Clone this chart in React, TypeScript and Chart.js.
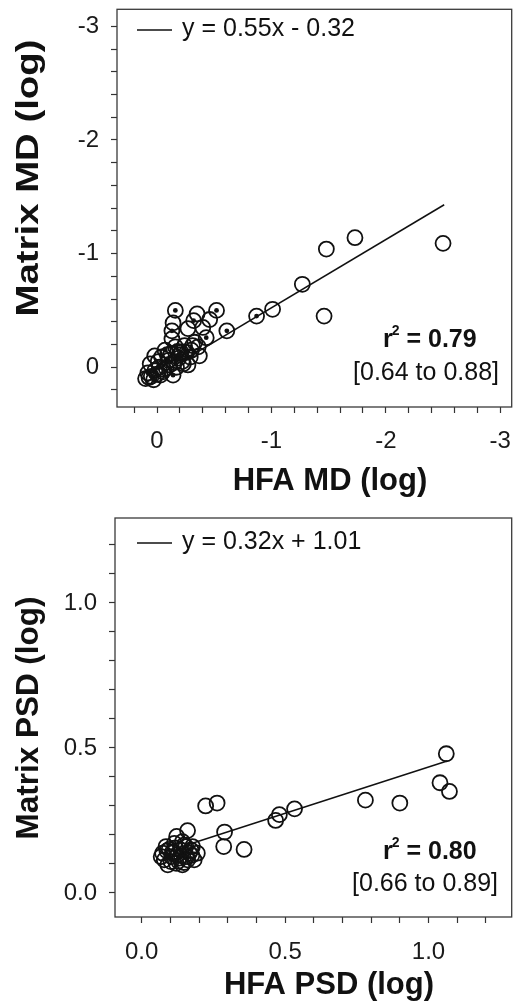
import React, { useEffect, useRef } from 'react';
import { Chart, registerables } from 'chart.js';

Chart.register(...registerables);

const FONT = '"Liberation Sans", Arial, Helvetica, sans-serif';
const INK = '#111111';

// ---------- Panel A : MD (log) ----------
const mdOpenX = [
  -2.50, -1.73, -1.48, -1.27, -1.46, -1.01, -0.87, -0.61,
  -0.16, -0.14, -0.13, -0.32, -0.35, -0.27, -0.52, -0.46, -0.40, -0.43,
  -0.33, -0.24, -0.16, -0.07, -0.37, -0.29, -0.19, -0.10, -0.01, -0.27,
  -0.17, -0.08, 0.02, 0.08, -0.03, -0.14, 0.10, 0.03, -0.05, -0.21,
  -0.13, 0.02, 0.06, -0.12, -0.22, -0.04, -0.30,
  -0.26, -0.20, -0.11, -0.02, 0.05, -0.31, -0.18, -0.09, -0.23, -0.06, 0.00, -0.15, -0.36, 0.07,
];
const mdOpenY = [
  -1.09, -1.14, -1.04, -0.73, -0.45, -0.51, -0.45, -0.32,
  -0.50, -0.39, -0.32, -0.41, -0.47, -0.34, -0.50, -0.42, -0.35, -0.26,
  -0.22, -0.19, -0.18, -0.15, -0.10, -0.09, -0.08, -0.06, -0.05, -0.02,
  0.00, 0.01, 0.03, 0.05, 0.07, 0.07, 0.10, 0.11, 0.04, -0.13,
  -0.25, -0.10, -0.03, -0.12, -0.05, -0.09, -0.15,
  -0.13, -0.11, -0.02, 0.00, 0.08, -0.19, -0.14, -0.11, -0.03, 0.02, 0.06, -0.04, -0.18, 0.09,
];
const mdDotX = [-0.87, -0.61, -0.16, -0.13, -0.32, -0.52, -0.43, -0.14, -0.16, -0.07, -0.24, -0.19, 0.03, 0.08, -0.10, -0.29, -0.20, -0.02, 0.05, -0.26];
const mdDotY = [-0.45, -0.32, -0.50, -0.32, -0.41, -0.50, -0.26, 0.07, -0.18, -0.15, -0.19, -0.08, 0.11, 0.05, -0.06, -0.09, -0.11, 0.00, 0.08, -0.13];
const mdFitX = [0.10, -2.51];
const mdFitY = [0.137, -1.43];
const mdMajorTicks = [-3, -2, -1, 0];
const mdTickLabels = ['-3', '-2', '-1', '0'];

// ---------- Panel B : PSD (log) ----------
const psdOpenX = [
  1.062, 1.04, 1.073, 0.90, 0.78, 0.533, 0.48, 0.467, 0.357, 0.286, 0.289, 0.263, 0.223, 0.16, 0.122,
  0.085, 0.114, 0.142, 0.177, 0.194, 0.073, 0.108, 0.136, 0.166, 0.079, 0.102, 0.131, 0.16, 0.183,
  0.091, 0.12, 0.142, 0.068, 0.154, 0.125,
  0.096, 0.118, 0.148, 0.172, 0.105, 0.138, 0.158, 0.088, 0.128, 0.175, 0.112, 0.147,
];
const psdOpenY = [
  0.48, 0.38, 0.35, 0.31, 0.32, 0.29, 0.27, 0.25, 0.15, 0.16, 0.21, 0.31, 0.30, 0.215, 0.195,
  0.16, 0.171, 0.177, 0.16, 0.137, 0.137, 0.142, 0.148, 0.137, 0.114, 0.108, 0.12, 0.114, 0.114,
  0.097, 0.102, 0.097, 0.125, 0.16, 0.131,
  0.15, 0.155, 0.165, 0.148, 0.125, 0.128, 0.125, 0.145, 0.11, 0.13, 0.14, 0.105,
];
const psdFitX = [0.12, 1.065];
const psdFitY = [0.153, 0.455];
const psdMajorTicks = [0, 0.5, 1.0];
const psdTickLabels = ['0.0', '0.5', '1.0'];

type Spec = {
  openX: number[]; openY: number[]; dotX: number[]; dotY: number[];
  fitX: number[]; fitY: number[];
  majors: number[]; labels: string[];
  x: { min: number; max: number; reverse: boolean; step: number };
  y: { min: number; max: number; reverse: boolean; step: number };
  pad: { top: number; right: number }; xH: number; yW: number;
  xTickPad: number; yTickPad: number;
  ann: any;
};

const annotate = {
  id: 'annotate',
  afterDraw(chart: any, _args: any, o: any) {
    const { ctx, chartArea: a } = chart;
    ctx.save();
    ctx.strokeStyle = '#3a3a3a';
    ctx.lineWidth = 1.3;
    ctx.strokeRect(a.left, a.top, a.right - a.left, a.bottom - a.top);

    // legend
    ctx.strokeStyle = INK;
    ctx.lineWidth = 1.5;
    ctx.beginPath();
    ctx.moveTo(o.legend.x1, o.legend.y);
    ctx.lineTo(o.legend.x2, o.legend.y);
    ctx.stroke();
    ctx.fillStyle = INK;
    ctx.textBaseline = 'middle';
    ctx.textAlign = 'left';
    ctx.font = `25px ${FONT}`;
    ctx.fillText(o.legend.text, o.legend.tx, o.legend.y - 1);

    // r squared
    let x = o.r2.x;
    ctx.font = `bold 25px ${FONT}`;
    ctx.fillText('r', x, o.r2.y);
    x += ctx.measureText('r').width;
    ctx.font = `bold 14px ${FONT}`;
    ctx.fillText('2', x - 1, o.r2.y - 9);
    x += ctx.measureText('2').width - 1;
    ctx.font = `bold 25px ${FONT}`;
    ctx.fillText(o.r2.text, x, o.r2.y);

    ctx.font = `25px ${FONT}`;
    ctx.textAlign = 'right';
    ctx.fillText(o.ci.text, o.ci.x, o.ci.y);

    // axis titles
    ctx.textAlign = 'center';
    ctx.font = `bold 31px ${FONT}`;
    ctx.fillText(o.xTitle.text, o.xTitle.x, o.xTitle.y);

    ctx.save();
    ctx.translate(o.yTitle.x, o.yTitle.y);
    ctx.rotate(-Math.PI / 2);
    const w = ctx.measureText(o.yTitle.text).width;
    ctx.scale(o.yTitle.len / w, 1);
    ctx.fillText(o.yTitle.text, 0, 0);
    ctx.restore();
    ctx.restore();
  },
};

function labelFor(majors: number[], labels: string[]) {
  return (v: any) => {
    const val = Number(v);
    for (let i = 0; i < majors.length; i++) {
      if (Math.abs(val - majors[i]) < 1e-6) return labels[i];
    }
    return '';
  };
}

function buildConfig(s: Spec): any {
  const zeroPad = (sc: any) => {
    sc.paddingTop = 0; sc.paddingBottom = 0; sc.paddingLeft = 0; sc.paddingRight = 0;
  };
  const tickFont = { family: FONT, size: 24 };
  const grid = { drawOnChartArea: false, drawTicks: true, tickLength: 6, tickColor: '#333', tickWidth: 1.2 };
  return {
    type: 'scatter',
    data: {
      datasets: [
        {
          data: s.dotX.map((x, i) => ({ x, y: s.dotY[i] })),
          pointRadius: 2.4, pointBackgroundColor: INK, pointBorderWidth: 0, order: 1,
        },
        {
          type: 'line',
          data: s.fitX.map((x, i) => ({ x, y: s.fitY[i] })),
          borderColor: INK, borderWidth: 1.5, pointRadius: 0, showLine: true, fill: false, order: 2,
        },
        {
          data: s.openX.map((x, i) => ({ x, y: s.openY[i] })),
          pointRadius: 7.5, pointBorderWidth: 1.8, pointBorderColor: INK,
          pointBackgroundColor: 'rgba(0,0,0,0)', order: 3,
        },
      ],
    },
    options: {
      animation: false,
      responsive: false,
      layout: { padding: { top: s.pad.top, right: s.pad.right, left: 0, bottom: 0 } },
      plugins: {
        legend: { display: false },
        tooltip: { enabled: false },
        annotate: s.ann,
      },
      scales: {
        x: {
          type: 'linear',
          min: s.x.min, max: s.x.max, reverse: s.x.reverse,
          afterFit: (sc: any) => { sc.height = s.xH; zeroPad(sc); },
          border: { display: false },
          grid,
          ticks: {
            stepSize: s.x.step, autoSkip: false, includeBounds: false, maxRotation: 0,
            padding: s.xTickPad, color: '#1a1a1a', font: tickFont,
            callback: labelFor(s.majors, s.labels),
          },
        },
        y: {
          type: 'linear',
          min: s.y.min, max: s.y.max, reverse: s.y.reverse,
          afterFit: (sc: any) => { sc.width = s.yW; zeroPad(sc); },
          border: { display: false },
          grid,
          ticks: {
            stepSize: s.y.step, autoSkip: false, includeBounds: false,
            padding: s.yTickPad, color: '#1a1a1a', font: tickFont,
            callback: labelFor(s.majors, s.labels),
          },
        },
      },
    },
    plugins: [annotate],
  };
}

const mdSpec: Spec = {
  openX: mdOpenX, openY: mdOpenY, dotX: mdDotX, dotY: mdDotY, fitX: mdFitX, fitY: mdFitY,
  majors: mdMajorTicks, labels: mdTickLabels,
  x: { min: -3.1, max: 0.35, reverse: true, step: 0.2 },
  y: { min: -3.15, max: 0.35, reverse: true, step: 0.2 },
  pad: { top: 5, right: 8 }, xH: 93, yW: 117, xTickPad: 14, yTickPad: 12,
  ann: {
    legend: { x1: 137, x2: 172, y: 30, tx: 182, text: 'y = 0.55x - 0.32' },
    r2: { x: 383, y: 340, text: ' = 0.79' },
    ci: { x: 499, y: 373, text: '[0.64 to 0.88]' },
    xTitle: { x: 330, y: 481, text: 'HFA MD (log)' },
    yTitle: { x: 29, y: 178, len: 277, text: 'Matrix MD (log)' },
  },
};

const psdSpec: Spec = {
  openX: psdOpenX, openY: psdOpenY, dotX: [], dotY: [], fitX: psdFitX, fitY: psdFitY,
  majors: psdMajorTicks, labels: psdTickLabels,
  x: { min: -0.093, max: 1.29, reverse: false, step: 0.1 },
  y: { min: -0.083, max: 1.293, reverse: false, step: 0.1 },
  pad: { top: 18, right: 5 }, xH: 90, yW: 115, xTickPad: 15, yTickPad: 12,
  ann: {
    legend: { x1: 137, x2: 172, y: 43, tx: 182, text: 'y = 0.32x + 1.01' },
    r2: { x: 383, y: 352, text: ' = 0.80' },
    ci: { x: 498, y: 384, text: '[0.66 to 0.89]' },
    xTitle: { x: 329, y: 485, text: 'HFA PSD (log)' },
    yTitle: { x: 29, y: 218, len: 243, text: 'Matrix PSD (log)' },
  },
};

function Panel({ spec, top, height }: { spec: Spec; top: number; height: number }) {
  const ref = useRef<HTMLCanvasElement>(null);
  useEffect(() => {
    const chart = new Chart(ref.current as HTMLCanvasElement, buildConfig(spec));
    return () => chart.destroy();
  }, [spec]);
  return (
    <canvas
      ref={ref}
      width={521}
      height={height}
      style={{ position: 'absolute', left: 0, top, width: 521, height, display: 'block' }}
    />
  );
}

export default function App() {
  return (
    <div style={{ position: 'absolute', left: 0, top: 0, width: 521, height: 1007, background: '#fff' }}>
      <Panel spec={mdSpec} top={0} height={500} />
      <Panel spec={psdSpec} top={500} height={507} />
    </div>
  );
}
